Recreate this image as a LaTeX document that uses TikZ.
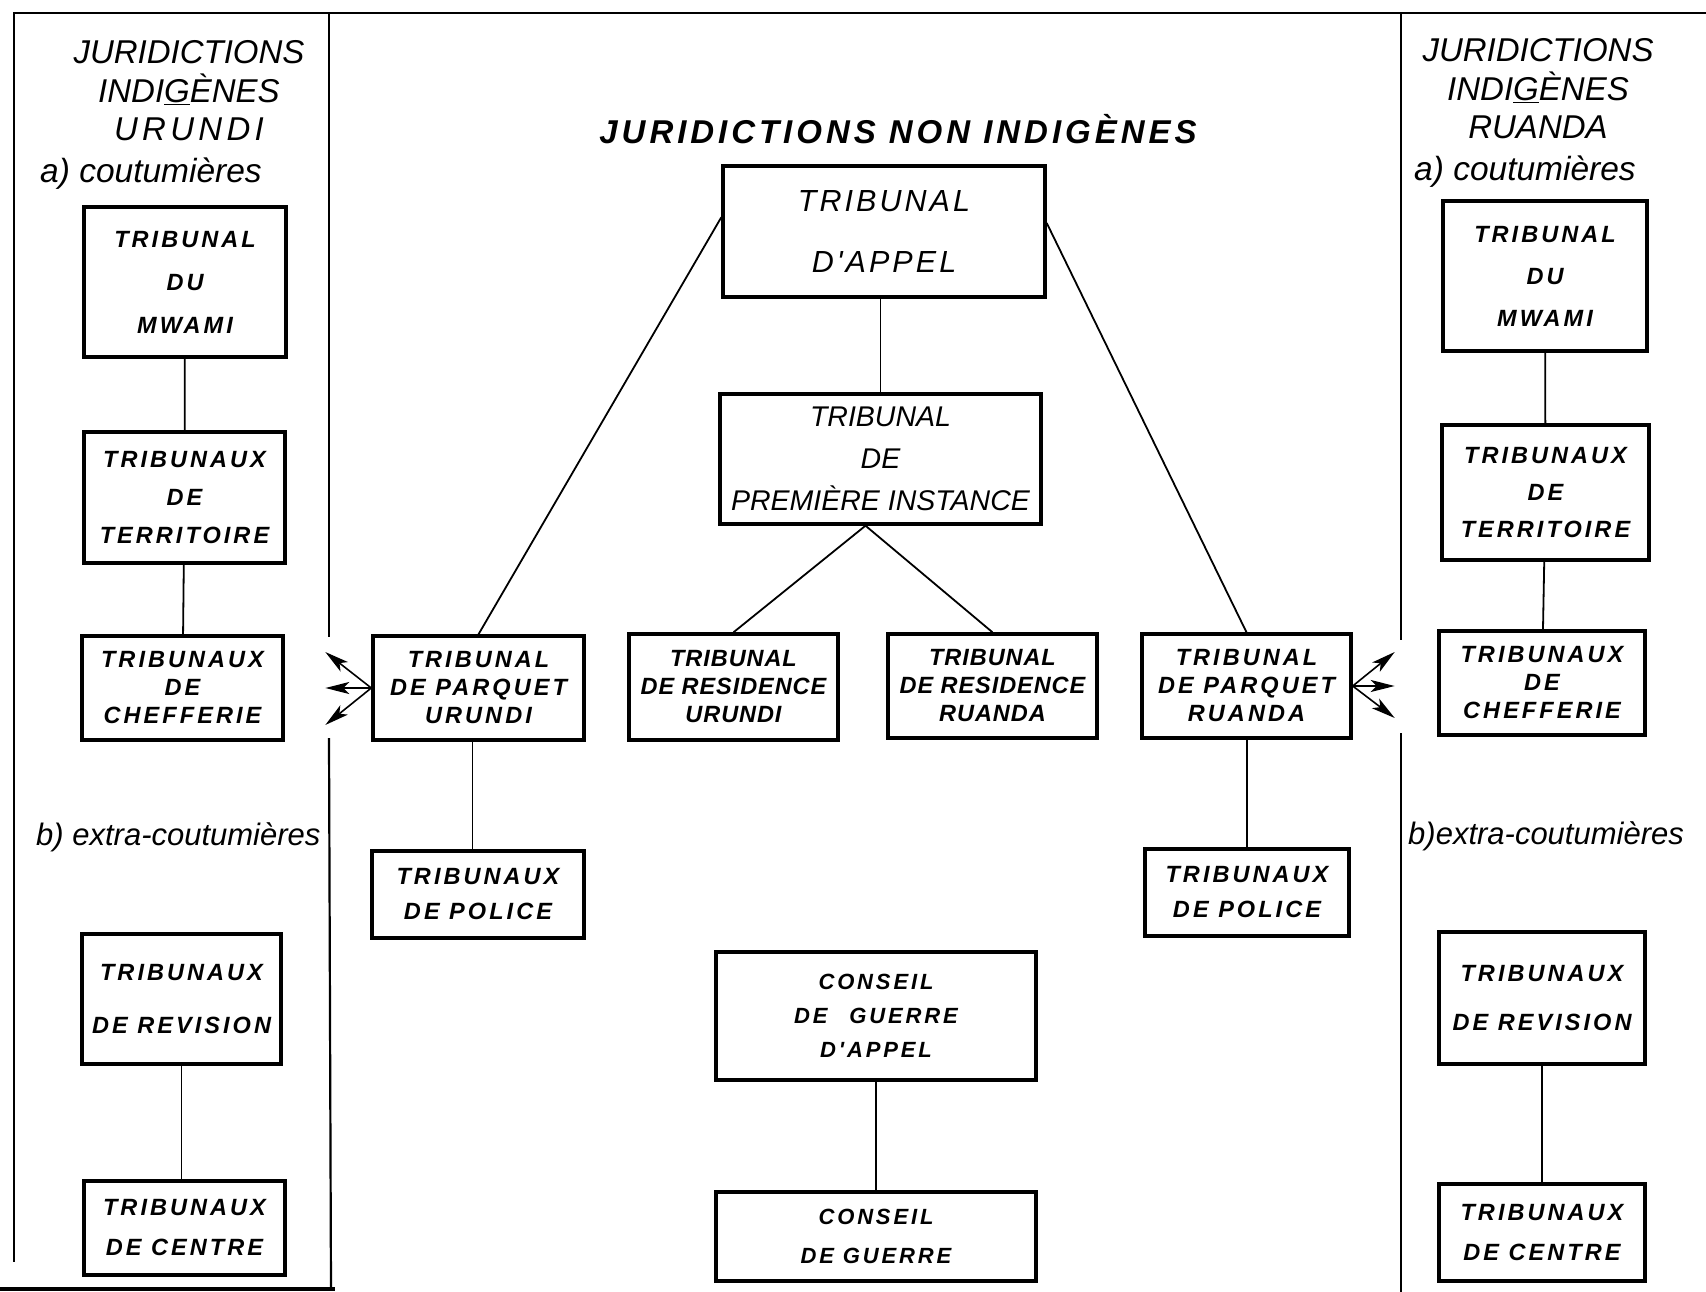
\documentclass[tikz,border=0pt]{standalone}
\usepackage{fontspec}
\setmainfont{Liberation Sans}
\newfontfamily\lettre{Liberation Sans}
\newfontfamily\lettreL[LetterSpace=13]{Liberation Sans}
\newfontfamily\lettreM[LetterSpace=4]{Liberation Sans}
\newfontfamily\lettreG[LetterSpace=10]{Liberation Sans}
\newfontfamily\lettreT[LetterSpace=12]{Liberation Sans}
\usetikzlibrary{arrows.meta}

\begin{document}
\begin{tikzpicture}[x=1pt, y=-1pt,
    cadre/.style={line width=2.2pt},
    lien/.style={line width=1.8pt},
    fleche/.style={line width=1.6pt, -{Stealth[length=24pt,width=12pt,inset=6pt]}},
    boite/.style={draw, line width=3.4pt, align=center, inner sep=0pt},
    petit/.style={boite, font=\lettreL\bfseries\itshape\fontsize{23.5}{#1}\selectfont},
    serre/.style={boite, font=\lettreM\bfseries\itshape\fontsize{23.5}{#1}\selectfont},
    conseil/.style={boite, font=\lettreL\bfseries\itshape\fontsize{22}{#1}\selectfont},
    grand/.style={boite, font=\lettreG\itshape\fontsize{30.5}{#1}\selectfont},
    entete/.style={align=center, inner sep=0pt, font=\lettre\itshape\fontsize{33}{38.5}\selectfont},
    rubrique/.style={inner sep=0pt, font=\lettre\itshape\fontsize{#1}{36}\selectfont},
    titre/.style={inner sep=0pt, font=\lettreT\bfseries\itshape\fontsize{33}{36}\selectfont},
  ]
\useasboundingbox (0,0) rectangle (1706,1292);

% cadre et separations
\draw[cadre] (1706,13) -- (14,13) -- (14,1262);
\draw[cadre] (329,13) -- (329,637);
\draw[cadre] (329,738) -- (331,1290);
\draw[cadre] (1401,13) -- (1401,640);
\draw[cadre] (1401,733) -- (1401,1292);
\draw[line width=4pt] (0,1289) -- (335,1289);

% en-tetes
\node[entete] (entU) at (189,91) {JURIDICTIONS\\INDI\underline{G}ÈNES\\{\lettreL URUNDI}};
\node[rubrique=33.5, anchor=west] (coutU) at (40,174) {a) coutumières};
\node[rubrique=31, anchor=west] (extraU) at (36,837) {b) extra-coutumières};
\node[entete] (entR) at (1538,89) {JURIDICTIONS\\INDI\underline{G}ÈNES\\RUANDA};
\node[rubrique=33.5, anchor=west] (coutR) at (1414,172) {a) coutumières};
\node[rubrique=31, anchor=west] (extraR) at (1408,836) {b)extra-coutumières};
\node[titre] (titre) at (898,129) {JURIDICTIONS NON INDIGÈNES};

% Urundi
\node[petit=43, minimum width=202, minimum height=150] (mwamiU) at (185,282) {TRIBUNAL\\DU\\MWAMI};
\node[petit=38, minimum width=201, minimum height=131] (terrU) at (184.5,497.5) {TRIBUNAUX\\DE\\TERRITOIRE};
\node[petit=28, minimum width=201, minimum height=104] (chefU) at (182.5,688) {TRIBUNAUX\\DE\\CHEFFERIE};
\node[petit=53, minimum width=199, minimum height=130] (revU) at (181.5,999) {TRIBUNAUX\\DE REVISION};
\node[petit=40, minimum width=201, minimum height=94] (centU) at (184.5,1228) {TRIBUNAUX\\DE CENTRE};

% Ruanda
\node[petit=42, minimum width=204, minimum height=150] (mwamiR) at (1545,276) {TRIBUNAL\\DU\\MWAMI};
\node[petit=37, minimum width=207, minimum height=135] (terrR) at (1545.5,492.5) {TRIBUNAUX\\DE\\TERRITOIRE};
\node[petit=28, minimum width=206, minimum height=104] (chefR) at (1542,683) {TRIBUNAUX\\DE\\CHEFFERIE};
\node[petit=49, minimum width=206, minimum height=132] (revR) at (1542,998) {TRIBUNAUX\\DE REVISION};
\node[petit=40, minimum width=206, minimum height=97] (centR) at (1542,1232.5) {TRIBUNAUX\\DE CENTRE};

% non indigenes
\node[grand=61, minimum width=322, minimum height=131] (appel) at (884,231.5) {TRIBUNAL\\D'APPEL};
\node[boite, font=\lettre\itshape\fontsize{28.5}{42}\selectfont, minimum width=321, minimum height=130] (prem) at (880.5,459) {TRIBUNAL\\DE\\PREMIÈRE INSTANCE};
\node[petit=28, minimum width=211, minimum height=104] (parqU) at (478.5,688) {TRIBUNAL\\DE PARQUET\\URUNDI};
\node[serre=28, minimum width=209, minimum height=106] (resU) at (733.5,687) {TRIBUNAL\\DE RESIDENCE\\URUNDI};
\node[serre=28, minimum width=209, minimum height=104] (resR) at (992.5,686) {TRIBUNAL\\DE RESIDENCE\\RUANDA};
\node[petit=28, minimum width=209, minimum height=104] (parqR) at (1246.5,686) {TRIBUNAL\\DE PARQUET\\RUANDA};
\node[petit=35, minimum width=212, minimum height=87] (polU) at (478,894.5) {TRIBUNAUX\\DE POLICE};
\node[petit=35, minimum width=204, minimum height=87] (polR) at (1247,892.5) {TRIBUNAUX\\DE POLICE};
\node[conseil=34, minimum width=320, minimum height=128] (cgA) at (876,1016) {CONSEIL\\DE\hspace{1em}GUERRE\\D'APPEL};
\node[conseil=39, minimum width=320, minimum height=89] (cg) at (876,1236.5) {CONSEIL\\DE GUERRE};

% liaisons
\draw[lien] (mwamiU) -- (terrU);
\draw[lien] (terrU) -- (chefU);
\draw[lien] (revU.south) -- (revU.south |- centU.north);
\draw[lien] (mwamiR) -- (terrR);
\draw[lien] (terrR) -- (chefR);
\draw[lien] (revR.south) -- (revR.south |- centR.north);
\draw[lien] (appel.175) -- (parqU.north);
\draw[lien] (appel.3) -- (parqR.north);
\draw[lien] (prem.north) -- (prem.north |- appel.south);
\coordinate (fourche) at ([xshift=-15pt]prem.south);
\draw[lien] (fourche) -- (resU.north);
\draw[lien] (fourche) -- (resR.north);
\draw[lien] ([xshift=-6pt]parqU.south) -- ([xshift=-6pt]parqU.south |- polU.north);
\draw[lien] (polR.north) -- (polR.north |- parqR.south);
\draw[lien] (cg.north) -- (cg.north |- cgA.south);

% fleches vers les chefferies
\foreach \dy in {-36,0,37}
  \draw[fleche] (parqU.west) -- ++(-46,\dy);
\foreach \dy in {-34,0,32}
  \draw[fleche] (parqR.east) -- ++(42,\dy);

\end{tikzpicture}
\end{document}
